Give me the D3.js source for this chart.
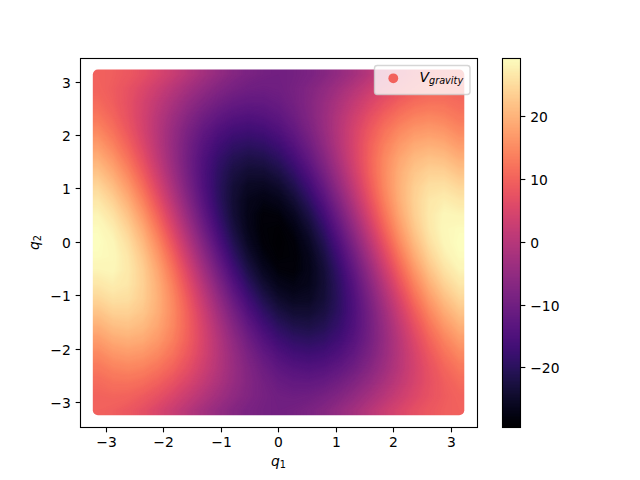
<!DOCTYPE html>
<html>
<head>
<meta charset="utf-8">
<script src="https://cdnjs.cloudflare.com/ajax/libs/d3/7.8.5/d3.min.js"></script>
<style>
html,body{margin:0;padding:0;background:#fff;}
svg{display:block;}
text{font-family:"DejaVu Sans",sans-serif;fill:#000;}
</style>
</head>
<body>
<svg id="chart" width="640" height="480"></svg>
<script>
// Values estimated by eye from the picture against its colour bar, taken every 15 degrees.
const q1Degrees = [-180,-165,-150,-135,-120,-105,-90,-75,-60,-45,-30,-15,0,15,30,45,60,75,90,105,120,135,150,165,180];
const q2Degrees = [180,165,150,135,120,105,90,75,60,45,30,15,0,-15,-30,-45,-60,-75,-90,-105,-120,-135,-150,-165,-180];
const vGravity = [
[9.8,9.4,8.5,7,4.9,2.6,0,-2.6,-4.9,-7,-8.5,-9.4,-9.8,-9.4,-8.5,-7,-4.9,-2.6,0,2.6,4.9,7,8.5,9.4,9.8],
[10.1,9.1,7.5,5.4,2.9,0.2,-2.5,-5.1,-7.3,-9,-10.1,-10.4,-10.1,-9.1,-7.5,-5.4,-2.9,-0.2,2.5,5.1,7.3,9,10.1,10.4,10.1],
[11.1,9.4,7.2,4.4,1.3,-1.8,-4.9,-7.6,-9.8,-11.4,-12.1,-12,-11.1,-9.4,-7.2,-4.4,-1.3,1.8,4.9,7.6,9.8,11.4,12.1,12,11.1],
[12.7,10.4,7.5,4.1,0.3,-3.4,-6.9,-10,-12.3,-13.9,-14.5,-14,-12.7,-10.4,-7.5,-4.1,-0.3,3.4,6.9,10,12.3,13.9,14.5,14,12.7],
[14.7,12,8.5,4.4,0,-4.4,-8.5,-12,-14.7,-16.4,-17,-16.4,-14.7,-12,-8.5,-4.4,0,4.4,8.5,12,14.7,16.4,17,16.4,14.7],
[17.1,14,10.1,5.4,0.3,-4.7,-9.5,-13.6,-16.7,-18.8,-19.5,-18.9,-17.1,-14,-10.1,-5.4,-0.3,4.7,9.5,13.6,16.7,18.8,19.5,18.9,17.1],
[19.6,16.4,12.1,7,1.3,-4.4,-9.8,-14.6,-18.3,-20.8,-21.9,-21.4,-19.6,-16.4,-12.1,-7,-1.3,4.4,9.8,14.6,18.3,20.8,21.9,21.4,19.6],
[22.1,18.9,14.5,9,2.9,-3.4,-9.5,-14.9,-19.3,-22.4,-23.9,-23.8,-22.1,-18.9,-14.5,-9,-2.9,3.4,9.5,14.9,19.3,22.4,23.9,23.8,22.1],
[24.5,21.4,17,11.4,4.9,-1.8,-8.5,-14.6,-19.6,-23.4,-25.5,-25.8,-24.5,-21.4,-17,-11.4,-4.9,1.8,8.5,14.6,19.6,23.4,25.5,25.8,24.5],
[26.5,23.8,19.5,13.9,7.3,0.2,-6.9,-13.6,-19.3,-23.7,-26.5,-27.4,-26.5,-23.8,-19.5,-13.9,-7.3,-0.2,6.9,13.6,19.3,23.7,26.5,27.4,26.5],
[28.1,25.8,21.9,16.4,9.8,2.6,-4.9,-12,-18.3,-23.4,-26.8,-28.4,-28.1,-25.8,-21.9,-16.4,-9.8,-2.6,4.9,12,18.3,23.4,26.8,28.4,28.1],
[29.1,27.4,23.9,18.8,12.3,5.1,-2.5,-10,-16.7,-22.4,-26.5,-28.7,-29.1,-27.4,-23.9,-18.8,-12.3,-5.1,2.5,10,16.7,22.4,26.5,28.7,29.1],
[29.4,28.4,25.5,20.8,14.7,7.6,0,-7.6,-14.7,-20.8,-25.5,-28.4,-29.4,-28.4,-25.5,-20.8,-14.7,-7.6,0,7.6,14.7,20.8,25.5,28.4,29.4],
[29.1,28.7,26.5,22.4,16.7,10,2.5,-5.1,-12.3,-18.8,-23.9,-27.4,-29.1,-28.7,-26.5,-22.4,-16.7,-10,-2.5,5.1,12.3,18.8,23.9,27.4,29.1],
[28.1,28.4,26.8,23.4,18.3,12,4.9,-2.6,-9.8,-16.4,-21.9,-25.8,-28.1,-28.4,-26.8,-23.4,-18.3,-12,-4.9,2.6,9.8,16.4,21.9,25.8,28.1],
[26.5,27.4,26.5,23.7,19.3,13.6,6.9,-0.2,-7.3,-13.9,-19.5,-23.8,-26.5,-27.4,-26.5,-23.7,-19.3,-13.6,-6.9,0.2,7.3,13.9,19.5,23.8,26.5],
[24.5,25.8,25.5,23.4,19.6,14.6,8.5,1.8,-4.9,-11.4,-17,-21.4,-24.5,-25.8,-25.5,-23.4,-19.6,-14.6,-8.5,-1.8,4.9,11.4,17,21.4,24.5],
[22.1,23.8,23.9,22.4,19.3,14.9,9.5,3.4,-2.9,-9,-14.5,-18.9,-22.1,-23.8,-23.9,-22.4,-19.3,-14.9,-9.5,-3.4,2.9,9,14.5,18.9,22.1],
[19.6,21.4,21.9,20.8,18.3,14.6,9.8,4.4,-1.3,-7,-12.1,-16.4,-19.6,-21.4,-21.9,-20.8,-18.3,-14.6,-9.8,-4.4,1.3,7,12.1,16.4,19.6],
[17.1,18.9,19.5,18.8,16.7,13.6,9.5,4.7,-0.3,-5.4,-10.1,-14,-17.1,-18.9,-19.5,-18.8,-16.7,-13.6,-9.5,-4.7,0.3,5.4,10.1,14,17.1],
[14.7,16.4,17,16.4,14.7,12,8.5,4.4,0,-4.4,-8.5,-12,-14.7,-16.4,-17,-16.4,-14.7,-12,-8.5,-4.4,0,4.4,8.5,12,14.7],
[12.7,14,14.5,13.9,12.3,10,6.9,3.4,-0.3,-4.1,-7.5,-10.4,-12.7,-14,-14.5,-13.9,-12.3,-10,-6.9,-3.4,0.3,4.1,7.5,10.4,12.7],
[11.1,12,12.1,11.4,9.8,7.6,4.9,1.8,-1.3,-4.4,-7.2,-9.4,-11.1,-12,-12.1,-11.4,-9.8,-7.6,-4.9,-1.8,1.3,4.4,7.2,9.4,11.1],
[10.1,10.4,10.1,9,7.3,5.1,2.5,-0.2,-2.9,-5.4,-7.5,-9.1,-10.1,-10.4,-10.1,-9,-7.3,-5.1,-2.5,0.2,2.9,5.4,7.5,9.1,10.1],
[9.8,9.4,8.5,7,4.9,2.6,0,-2.6,-4.9,-7,-8.5,-9.4,-9.8,-9.4,-8.5,-7,-4.9,-2.6,0,2.6,4.9,7,8.5,9.4,9.8]
];
const axisTicks = [-3,-2,-1,0,1,2,3];
const colorbarTicks = [-20,-10,0,10,20];
const colorDomain = [-29.43,29.43];
const legendLabel = "V";
const legendSub = "gravity";
const legendValue = 10;

const svg = d3.select("#chart");
const plot = {left:80,right:477.1,top:57.6,bottom:427.2};
const lineW = 1.11;
const x = d3.scaleLinear().domain([-3.453,3.453]).range([plot.left,plot.right]);
const y = d3.scaleLinear().domain([-3.46,3.46]).range([plot.bottom,plot.top]);
const color = d3.scaleSequential(d3.interpolateMagma).domain(colorDomain);
const rad = d => d*Math.PI/180;

// Smooth field: the table, with its outer rows and columns repeated so the
// colours carry on unchanged to the edge of the round point markers.
const n = q1Degrees.length, m = q2Degrees.length;
const padded = [];
for (let r=-1;r<=m;r++) for (let c=-1;c<=n;c++) {
  padded.push(vGravity[Math.max(0,Math.min(m-1,r))][Math.max(0,Math.min(n-1,c))]);
}
const qxAt = g => {
  const t = g-1.5, k = Math.max(-1,Math.min(n-1,Math.floor(t)));
  const a = k<0 ? q1Degrees[0]-15 : q1Degrees[k];
  const b = k+1>=n ? q1Degrees[n-1]+15 : q1Degrees[k+1];
  return x(rad(a+(b-a)*(t-k)));
};
const qyAt = g => {
  const t = g-1.5, k = Math.max(-1,Math.min(m-1,Math.floor(t)));
  const a = k<0 ? q2Degrees[0]+15 : q2Degrees[k];
  const b = k+1>=m ? q2Degrees[m-1]-15 : q2Degrees[k+1];
  return y(rad(a+(b-a)*(t-k)));
};
const thresholds = d3.range(-31,30.01,0.2);
const contours = d3.contours().size([n+2,m+2]).smooth(true).thresholds(thresholds)(padded);
const path = d3.geoPath(d3.geoTransform({point(px,py){this.stream.point(qxAt(px),qyAt(py));}}));

const defs = svg.append("defs");
const markerRadius = 5.1;
defs.append("mask").attr("id","field").attr("maskUnits","userSpaceOnUse")
  .attr("x",0).attr("y",0).attr("width",640).attr("height",480)
  .append("rect")
  .attr("x",x(rad(q1Degrees[0]))-markerRadius)
  .attr("y",y(rad(q2Degrees[0]))-markerRadius)
  .attr("width",x(rad(q1Degrees[n-1]))-x(rad(q1Degrees[0]))+2*markerRadius)
  .attr("height",y(rad(q2Degrees[m-1]))-y(rad(q2Degrees[0]))+2*markerRadius)
  .attr("rx",markerRadius).attr("ry",markerRadius).attr("fill","#fff");

svg.append("g").attr("mask","url(#field)")
  .selectAll("path").data(contours.filter(c=>c.coordinates.length)).join("path")
  .attr("d",path)
  .attr("fill",d=>color(d.value+0.1));

// Axes
const fmt = d => d3.format("d")(d).replace("-","\u2212");
function styleAxis(g, scale, vertical){
  g.select(".domain").remove();
  g.selectAll(".tick").attr("transform",d=>{
    const p = Math.floor(scale(d))+0.5;
    return vertical ? `translate(0,${p})` : `translate(${p},0)`;
  });
  g.selectAll(".tick line").attr("stroke","#000").attr("stroke-width",lineW);
  g.selectAll(".tick text").attr("font-size",13.89).attr("font-family","DejaVu Sans");
  if (vertical) g.selectAll(".tick text").attr("dy","0.4em");
}
const tickLen = 4.86, tickPad = 4.86;
const fx = {l:80.5,r:477.5,t:58.5,b:427.5};
svg.append("g").attr("transform",`translate(0,${fx.b})`)
  .call(d3.axisBottom(x).tickValues(axisTicks).tickFormat(fmt).tickSize(tickLen).tickPadding(tickPad)).call(styleAxis,x,false);
svg.append("g").attr("transform",`translate(${fx.l},0)`)
  .call(d3.axisLeft(y).tickValues(axisTicks).tickFormat(fmt).tickSize(tickLen).tickPadding(tickPad)).call(styleAxis,y,true);
svg.append("rect").attr("x",fx.l).attr("y",fx.t)
  .attr("width",fx.r-fx.l).attr("height",fx.b-fx.t)
  .attr("fill","none").attr("stroke","#000").attr("stroke-width",lineW);

// Axis labels
function mathLabel(sel,base,sub){
  sel.append("tspan").attr("font-style","italic").attr("font-size",13.89).text(base);
  sel.append("tspan").attr("font-size",9.72).attr("dy",2.1).text(sub);
}
svg.append("text").attr("x",278.5).attr("y",466).attr("text-anchor","middle").call(mathLabel,"q","1");
svg.append("text").attr("transform","translate(39,242.5) rotate(-90)").attr("text-anchor","middle").call(mathLabel,"q","2");

// Colour bar: one row per pixel, coloured through the colour scale
const cb = {left:502.5,right:520.5};
const cy = d3.scaleLinear().domain(colorDomain).range([plot.bottom,plot.top]);
svg.append("g").attr("shape-rendering","crispEdges").selectAll("rect")
  .data(d3.range(Math.floor(plot.top)+1,Math.ceil(plot.bottom))).join("rect")
  .attr("x",cb.left).attr("width",cb.right-cb.left)
  .attr("y",d=>d).attr("height",1)
  .attr("fill",d=>color(cy.invert(d+0.5)));
svg.append("g").attr("transform",`translate(${cb.right},0)`)
  .call(d3.axisRight(cy).tickValues(colorbarTicks).tickFormat(fmt).tickSize(tickLen).tickPadding(tickPad)).call(styleAxis,cy,true);
svg.append("rect").attr("x",cb.left).attr("y",fx.t)
  .attr("width",cb.right-cb.left).attr("height",fx.b-fx.t)
  .attr("fill","none").attr("stroke","#000").attr("stroke-width",lineW);

// Legend
const legend = svg.append("g");
legend.append("rect").attr("x",374.5).attr("y",65.5).attr("width",95.5).attr("height",29)
  .attr("rx",2.8).attr("ry",2.8)
  .attr("fill","#fff").attr("fill-opacity",0.8).attr("stroke","#ccc").attr("stroke-opacity",0.8).attr("stroke-width",1.39);
legend.append("circle").attr("cx",393.3).attr("cy",78.3).attr("r",4.9).attr("fill",color(legendValue));
const lt = legend.append("text").attr("x",419.5).attr("y",82);
lt.append("tspan").attr("font-style","italic").attr("font-size",13.89).text(legendLabel);
lt.append("tspan").attr("font-style","italic").attr("font-size",9.72).attr("dy",2.1).text(legendSub);
</script>
</body>
</html>
